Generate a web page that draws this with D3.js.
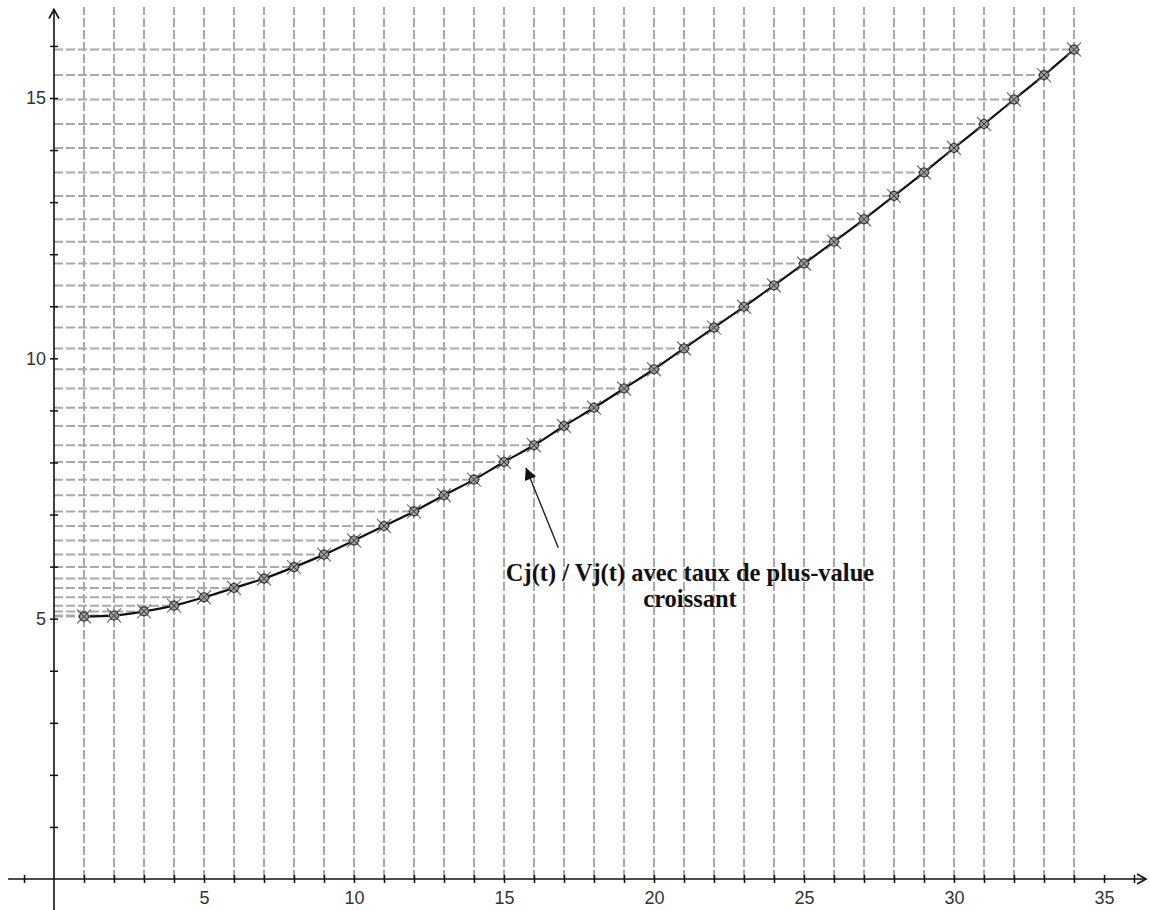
<!DOCTYPE html>
<html>
<head>
<meta charset="utf-8">
<script src="https://cdn.jsdelivr.net/npm/d3@7"></script>
<style>
    html, body { margin: 0; padding: 0; background: #ffffff; }
    svg { display: block; }
</style>
</head>
<body>
<svg id="chart"></svg>
<script>
// t = period, ratio = Cj(t) / Vj(t)
const periods = [1, 2, 3, 4, 5, 6, 7, 8, 9, 10, 11, 12, 13, 14, 15, 16, 17,
    18, 19, 20, 21, 22, 23, 24, 25, 26, 27, 28, 29, 30, 31, 32, 33, 34];
const ratios = [5.04, 5.06, 5.14, 5.25, 5.41, 5.59, 5.77, 5.99, 6.23, 6.50,
    6.78, 7.06, 7.37, 7.67, 8.01, 8.33, 8.70, 9.05, 9.42, 9.79, 10.19, 10.59,
    10.99, 11.40, 11.82, 12.24, 12.67, 13.12, 13.57, 14.04, 14.50, 14.97,
    15.44, 15.93];
const xTickValues = [-1, 0, 1, 2, 3, 4, 5, 6, 7, 8, 9, 10, 11, 12, 13, 14, 15,
    16, 17, 18, 19, 20, 21, 22, 23, 24, 25, 26, 27, 28, 29, 30, 31, 32, 33, 34, 35, 36];
const xTickLabels = [5, 10, 15, 20, 25, 30, 35];
const yTickValues = [1, 2, 3, 4, 5, 6, 7, 8, 9, 10, 11, 12, 13, 14, 15, 16];
const yTickLabels = [5, 10, 15];
const noteLines = ['Cj(t) / Vj(t) avec taux de plus-value', 'croissant'];

const width = 1150;
const height = 910;
const gridColor = '#a9a9a9';

var points = periods.map(function(t, i) { return { t: t, v: ratios[i] }; });

var svg = d3.select('#chart')
    .attr('width', width)
    .attr('height', height);

svg.append('rect')
    .attr('width', width)
    .attr('height', height)
    .attr('fill', '#ffffff');

var x = d3.scaleLinear()
    .domain([0, 35])
    .range([54, 1104]);

var y = d3.scaleLinear()
    .domain([0, 15])
    .range([879, 98]);

// dashed guides: verticals up to the top, horizontals stop at each point
var grid = svg.append('g')
    .attr('stroke', gridColor)
    .attr('stroke-width', 2)
    .attr('stroke-dasharray', '9,3');

grid.selectAll('line.v')
    .data(points)
    .enter().append('line')
    .attr('class', 'v')
    .attr('x1', d => x(d.t))
    .attr('x2', d => x(d.t))
    .attr('y1', y(0))
    .attr('y2', y(16.75));

grid.selectAll('line.h')
    .data(points)
    .enter().append('line')
    .attr('class', 'h')
    .attr('x1', x(0))
    .attr('x2', d => x(d.t))
    .attr('y1', d => y(d.v))
    .attr('y2', d => y(d.v));

// axes
var xAxis = d3.axisBottom(x)
    .tickValues(xTickValues)
    .tickSize(4)
    .tickPadding(6)
    .tickFormat(d => xTickLabels.includes(d) ? d : '');

var yAxis = d3.axisLeft(y)
    .tickValues(yTickValues)
    .tickSize(4)
    .tickPadding(6)
    .tickFormat(d => yTickLabels.includes(d) ? d : '');

var gX = svg.append('g')
    .attr('transform', 'translate(0,' + y(0) + ')')
    .call(xAxis);

var gY = svg.append('g')
    .attr('transform', 'translate(' + x(0) + ',0)')
    .call(yAxis);

[gX, gY].forEach(function(g) {
    g.select('.domain').remove();
    g.selectAll('text')
        .attr('fill', '#333')
        .style('font-family', '"Liberation Sans", Arial, sans-serif')
        .style('font-size', '18px');
    g.selectAll('.tick line')
        .attr('stroke', '#111')
        .attr('stroke-width', 1.5);
});
gX.selectAll('.tick line').attr('y1', -4).attr('y2', 4);
gX.selectAll('.tick text').attr('dy', '0.85em');
gY.selectAll('.tick line').attr('x1', -4).attr('x2', 4);
gY.selectAll('.tick text').attr('x', -8);
gX.selectAll('.tick').filter(d => d === 0).remove();

// axis lines with open arrow heads
var axisLines = svg.append('g')
    .attr('stroke', '#111')
    .attr('stroke-width', 1.6)
    .attr('fill', 'none');

axisLines.append('line')
    .attr('x1', x(-1.53)).attr('x2', x(36.4))
    .attr('y1', y(0)).attr('y2', y(0));
axisLines.append('path')
    .attr('d', 'M' + (x(36.4) - 9) + ',' + (y(0) - 5) +
        'L' + x(36.4) + ',' + y(0) +
        'L' + (x(36.4) - 9) + ',' + (y(0) + 5));

axisLines.append('line')
    .attr('x1', x(0)).attr('x2', x(0))
    .attr('y1', y(-0.6)).attr('y2', y(16.7));
axisLines.append('path')
    .attr('d', 'M' + (x(0) - 5) + ',' + (y(16.7) + 9) +
        'L' + x(0) + ',' + y(16.7) +
        'L' + (x(0) + 5) + ',' + (y(16.7) + 9));

// curve
var line = d3.line()
    .x(d => x(d.t))
    .y(d => y(d.v))
    .curve(d3.curveMonotoneX);

svg.append('path')
    .datum(points)
    .attr('d', line)
    .attr('fill', 'none')
    .attr('stroke', '#111')
    .attr('stroke-width', 2.2);

// star markers
var marks = svg.selectAll('g.mark')
    .data(points)
    .enter().append('g')
    .attr('class', 'mark')
    .attr('transform', d => 'translate(' + x(d.t) + ',' + y(d.v) + ')');

marks.append('path')
    .attr('d', 'M-7,-7L7,7M-7,7L7,-7M0,-6L0,6M-6,0L6,0')
    .attr('stroke', '#7a7a7a')
    .attr('stroke-width', 1.3);

marks.append('circle')
    .attr('r', 4.5)
    .attr('fill', '#9e9e9e')
    .attr('stroke', '#3a3a3a')
    .attr('stroke-width', 1.1);

marks.append('path')
    .attr('d', 'M-4,-4L4,4M-4,4L4,-4')
    .attr('stroke', '#333')
    .attr('stroke-width', 1);

// annotation
svg.append('defs').append('marker')
    .attr('id', 'head')
    .attr('viewBox', '0 0 10 10')
    .attr('refX', 10)
    .attr('refY', 5)
    .attr('markerUnits', 'userSpaceOnUse')
    .attr('markerWidth', 16)
    .attr('markerHeight', 12)
    .attr('orient', 'auto')
    .append('path')
    .attr('d', 'M0,0L10,5L0,10Z')
    .attr('fill', '#111');

svg.append('line')
    .attr('x1', x(16.81)).attr('y1', y(6.36))
    .attr('x2', x(15.73)).attr('y2', y(7.90))
    .attr('stroke', '#222')
    .attr('stroke-width', 1.4)
    .attr('marker-end', 'url(#head)');

svg.append('text')
    .attr('x', x(21.2))
    .attr('y', y(5.73))
    .attr('text-anchor', 'middle')
    .attr('fill', '#111')
    .style('font-family', '"Liberation Serif", "Times New Roman", serif')
    .style('font-weight', 'bold')
    .style('font-size', '24.5px')
    .selectAll('tspan')
    .data(noteLines)
    .enter().append('tspan')
    .attr('x', x(21.2))
    .attr('dy', (d, i) => i === 0 ? 0 : 26)
    .text(d => d);
</script>
</body>
</html>
